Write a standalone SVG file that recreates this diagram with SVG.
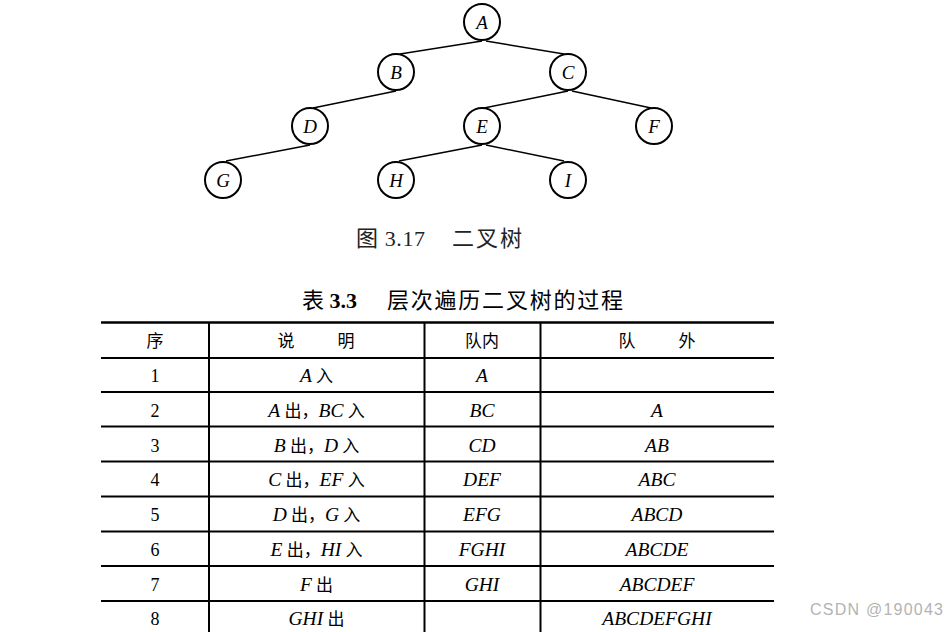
<svg xmlns="http://www.w3.org/2000/svg" width="947" height="632" viewBox="0 0 947 632">
<style>
.nd{fill:#fff;stroke:#000;stroke-width:2}
.ed{stroke:#000;stroke-width:1.5;fill:none}
.nl{font-family:"Liberation Serif",serif;font-style:italic;font-size:19px;text-anchor:middle;fill:#000}
.cap{font-family:"Liberation Serif","Noto Sans CJK SC",sans-serif;font-size:22px;fill:#222}
.ttl{font-family:"Liberation Serif","Noto Sans CJK SC",sans-serif;font-size:22px;fill:#000}
.t{font-family:"Liberation Serif","Noto Sans CJK SC",serif;font-size:18px;text-anchor:middle;fill:#000}
.c{font-size:17px}
.i{font-style:italic;font-size:19.5px}
.rl{stroke:#000;stroke-width:2.5}
.rt{stroke:#000;stroke-width:2}
.wm{font-family:"Liberation Sans",sans-serif;font-size:16px;fill:#b3b3b3}
</style>
<rect width="947" height="632" fill="#fff"/>
<g id="edges">
<line class="ed" x1="482" y1="41" x2="400" y2="54"/>
<line class="ed" x1="486" y1="41" x2="564" y2="54"/>
<line class="ed" x1="396" y1="91" x2="313" y2="108"/>
<line class="ed" x1="568" y1="91" x2="484" y2="108"/>
<line class="ed" x1="572" y1="91" x2="651" y2="108"/>
<line class="ed" x1="310" y1="145" x2="226" y2="161"/>
<line class="ed" x1="482" y1="145" x2="399" y2="161"/>
<line class="ed" x1="486" y1="145" x2="564" y2="161"/>
</g>
<g id="A"><circle class="nd" cx="482" cy="22" r="18"/><text class="nl" x="482" y="28.5">A</text></g>
<g id="B"><circle class="nd" cx="396" cy="72" r="18"/><text class="nl" x="396" y="78.5">B</text></g>
<g id="C"><circle class="nd" cx="568" cy="72" r="18"/><text class="nl" x="568" y="78.5">C</text></g>
<g id="D"><circle class="nd" cx="310" cy="126" r="18"/><text class="nl" x="310" y="132.5">D</text></g>
<g id="E"><circle class="nd" cx="482" cy="126" r="18"/><text class="nl" x="482" y="132.5">E</text></g>
<g id="F"><circle class="nd" cx="654" cy="126" r="18"/><text class="nl" x="654" y="132.5">F</text></g>
<g id="G"><circle class="nd" cx="223" cy="180" r="18"/><text class="nl" x="223" y="186.5">G</text></g>
<g id="H"><circle class="nd" cx="396" cy="180" r="18"/><text class="nl" x="396" y="186.5">H</text></g>
<g id="I"><circle class="nd" cx="568" cy="180" r="18"/><text class="nl" x="568" y="186.5">I</text></g>

<text class="cap" x="356" y="246" textLength="69">图 3.17</text>
<text class="cap" x="452" y="246" textLength="70">二叉树</text>

<text class="ttl" x="302" y="308">表 <tspan font-weight="bold">3.3</tspan></text>
<text class="ttl" x="387" y="308" textLength="236">层次遍历二叉树的过程</text>

<g id="table">
<line class="rl" x1="101" y1="322.5" x2="774" y2="322.5"/>
<line class="rt" x1="101" y1="358" x2="774" y2="358"/>
<line class="rt" x1="101" y1="392" x2="774" y2="392"/>
<line class="rt" x1="101" y1="426.5" x2="774" y2="426.5"/>
<line class="rt" x1="101" y1="461.5" x2="774" y2="461.5"/>
<line class="rt" x1="101" y1="496.5" x2="774" y2="496.5"/>
<line class="rt" x1="101" y1="531.5" x2="774" y2="531.5"/>
<line class="rt" x1="101" y1="566" x2="774" y2="566"/>
<line class="rt" x1="101" y1="601" x2="774" y2="601"/>
<line class="rt" x1="209" y1="322" x2="209" y2="632"/>
<line class="rt" x1="424.5" y1="322" x2="424.5" y2="632"/>
<line class="rt" x1="540.5" y1="322" x2="540.5" y2="632"/>

<text class="t c" x="155" y="347">序</text>
<text class="t c" x="286" y="347">说</text>
<text class="t c" x="346" y="347">明</text>
<text class="t c" x="482" y="347">队内</text>
<text class="t c" x="627" y="347">队</text>
<text class="t c" x="687" y="347">外</text>

<text class="t" x="155" y="382">1</text>
<text class="t c" x="316.5" y="382"><tspan class="i">A</tspan> 入</text>
<text class="t" x="482" y="382"><tspan class="i">A</tspan></text>

<text class="t" x="155" y="416.5">2</text>
<text class="t c" x="316.5" y="416.5"><tspan class="i">A</tspan> 出，<tspan class="i">BC</tspan> 入</text>
<text class="t" x="482" y="416.5"><tspan class="i">BC</tspan></text>
<text class="t" x="657" y="416.5"><tspan class="i">A</tspan></text>

<text class="t" x="155" y="451.5">3</text>
<text class="t c" x="316.5" y="451.5"><tspan class="i">B</tspan> 出，<tspan class="i">D</tspan> 入</text>
<text class="t" x="482" y="451.5"><tspan class="i">CD</tspan></text>
<text class="t" x="657" y="451.5"><tspan class="i">AB</tspan></text>

<text class="t" x="155" y="486">4</text>
<text class="t c" x="316.5" y="486"><tspan class="i">C</tspan> 出，<tspan class="i">EF</tspan> 入</text>
<text class="t" x="482" y="486"><tspan class="i">DEF</tspan></text>
<text class="t" x="657" y="486"><tspan class="i">ABC</tspan></text>

<text class="t" x="155" y="521">5</text>
<text class="t c" x="316.5" y="521"><tspan class="i">D</tspan> 出，<tspan class="i">G</tspan> 入</text>
<text class="t" x="482" y="521"><tspan class="i">EFG</tspan></text>
<text class="t" x="657" y="521"><tspan class="i">ABCD</tspan></text>

<text class="t" x="155" y="556">6</text>
<text class="t c" x="316.5" y="556"><tspan class="i">E</tspan> 出，<tspan class="i">HI</tspan> 入</text>
<text class="t" x="482" y="556"><tspan class="i">FGHI</tspan></text>
<text class="t" x="657" y="556"><tspan class="i">ABCDE</tspan></text>

<text class="t" x="155" y="590.5">7</text>
<text class="t c" x="316.5" y="590.5"><tspan class="i">F</tspan> 出</text>
<text class="t" x="482" y="590.5"><tspan class="i">GHI</tspan></text>
<text class="t" x="657" y="590.5"><tspan class="i">ABCDEF</tspan></text>

<text class="t" x="155" y="625">8</text>
<text class="t c" x="316.5" y="625"><tspan class="i">GHI</tspan> 出</text>
<text class="t" x="657" y="625"><tspan class="i">ABCDEFGHI</tspan></text>
</g>

<text class="wm" x="810" y="615" textLength="133">CSDN @190043</text>
</svg>
